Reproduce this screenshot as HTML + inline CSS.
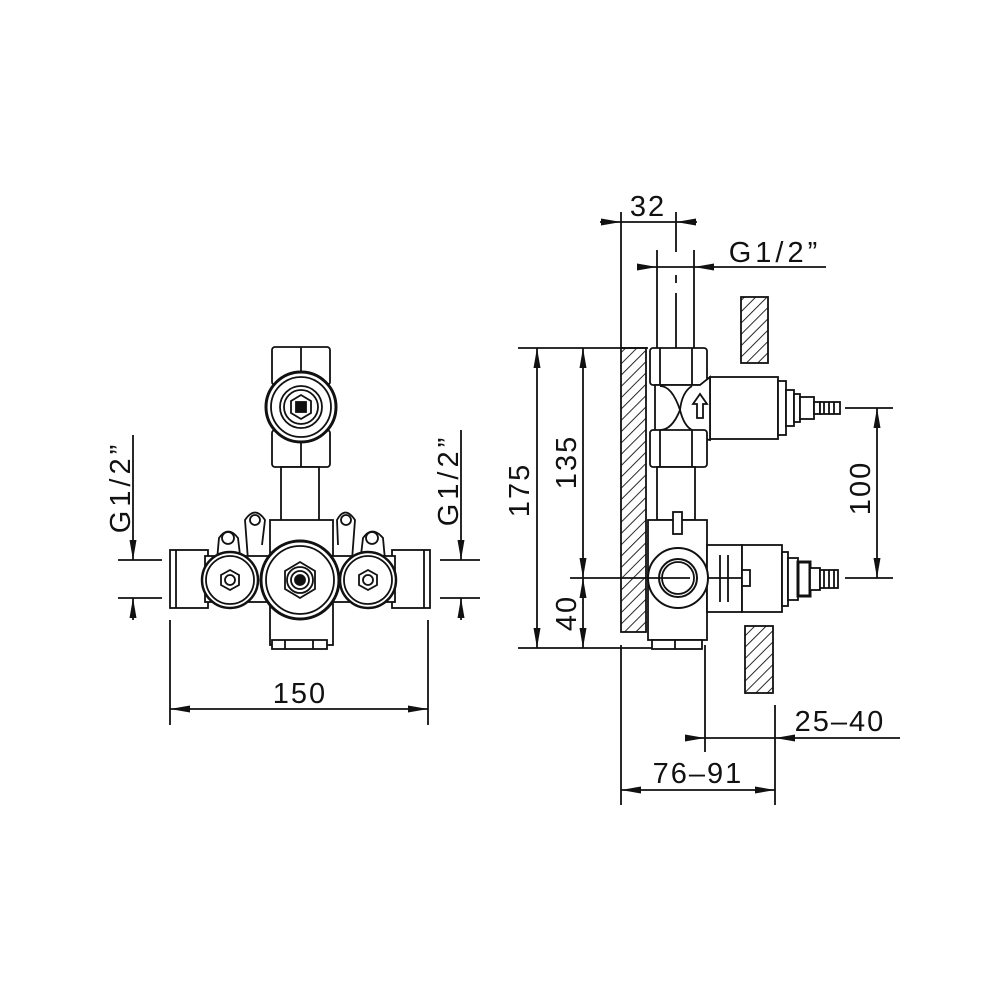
<!DOCTYPE html>
<html><head><style>body{margin:0;background:#fff}svg{display:block}text{font-family:"Liberation Sans","DejaVu Sans",sans-serif;font-size:29px;fill:#111;letter-spacing:2px}</style></head><body>
<svg width="1000" height="1000" viewBox="0 0 1000 1000" xmlns="http://www.w3.org/2000/svg">
<defs>
<pattern id="h" width="8" height="8" patternUnits="userSpaceOnUse" patternTransform="rotate(45)"><rect width="8" height="8" fill="#fff"/><line x1="0" y1="0" x2="0" y2="8" stroke="#111" stroke-width="1.8"/></pattern>
<marker id="a" markerWidth="20" markerHeight="10" refX="20" refY="5" orient="auto" markerUnits="userSpaceOnUse"><path d="M0,1.5 L20,5 L0,8.5Z" fill="#111"/></marker>
</defs>
<g stroke="#111" stroke-width="1.8" fill="none">
<!-- LEFT VIEW -->
<rect x="272" y="347" width="58" height="38" rx="3" fill="#fff"/>
<line x1="301" y1="347" x2="301" y2="385"/>
<rect x="272" y="430" width="58" height="37" rx="3" fill="#fff"/>
<line x1="301" y1="430" x2="301" y2="467"/>
<circle cx="301" cy="407" r="35" fill="#fff" stroke-width="3"/>
<circle cx="301" cy="407" r="30"/>
<circle cx="301" cy="407" r="21"/>
<circle cx="301" cy="407" r="17"/>
<polygon points="301,395 311,401 311,413 301,419 291,413 291,401"/>
<rect x="296" y="402" width="10" height="10" fill="#111"/>
<rect x="281" y="467" width="38" height="55" fill="#fff"/>
<path d="M248,560 L245,520 Q255,505 265,520 L262,545" fill="#fff"/>
<circle cx="255" cy="520" r="5"/>
<path d="M352,560 L355,520 Q345,505 337,520 L338,545" fill="#fff"/>
<circle cx="346" cy="520" r="5"/>
<path d="M217,560 L219,538 Q228,525 238,538 L240,555" fill="#fff"/>
<circle cx="228" cy="538" r="6"/>
<path d="M385,560 L383,538 Q372,525 363,538 L361,555" fill="#fff"/>
<circle cx="372" cy="538" r="6"/>
<rect x="270" y="520" width="63" height="125" fill="#fff"/>
<rect x="272" y="640" width="55" height="9" fill="#fff"/>
<line x1="285" y1="640" x2="285" y2="649"/><line x1="313" y1="640" x2="313" y2="649"/>
<rect x="170" y="550" width="38" height="58" fill="#fff"/>
<line x1="176" y1="550" x2="176" y2="608"/>
<rect x="392" y="550" width="38" height="58" fill="#fff"/>
<line x1="424" y1="550" x2="424" y2="608"/>
<rect x="205" y="556" width="190" height="46" fill="#fff"/>
<circle cx="230" cy="580" r="28" fill="#fff" stroke-width="2.5"/>
<circle cx="230" cy="580" r="24"/>
<polygon points="230,570 239,575 239,585 230,590 221,585 221,575"/>
<circle cx="230" cy="580" r="5"/>
<circle cx="368" cy="580" r="28" fill="#fff" stroke-width="2.5"/>
<circle cx="368" cy="580" r="24"/>
<polygon points="368,570 377,575 377,585 368,590 359,585 359,575"/>
<circle cx="368" cy="580" r="5"/>
<circle cx="300" cy="580" r="39" fill="#fff" stroke-width="3"/>
<circle cx="300" cy="580" r="34"/>
<polygon points="300,562 315,571 315,589 300,598 285,589 285,571"/>
<circle cx="300" cy="580" r="13"/><circle cx="300" cy="580" r="9"/>
<circle cx="300" cy="580" r="5" fill="#111"/>
<line x1="170" y1="620" x2="170" y2="725"/><line x1="428" y1="620" x2="428" y2="725"/>
<line x1="190" y1="709" x2="170" y2="709" marker-end="url(#a)"/>
<line x1="190" y1="709" x2="408" y2="709"/>
<line x1="408" y1="709" x2="428" y2="709" marker-end="url(#a)"/>
<line x1="118" y1="560" x2="162" y2="560"/><line x1="118" y1="598" x2="162" y2="598"/>
<line x1="133" y1="435" x2="133" y2="560" marker-end="url(#a)"/>
<line x1="133" y1="620" x2="133" y2="598" marker-end="url(#a)"/>
<line x1="440" y1="560" x2="480" y2="560"/><line x1="440" y1="598" x2="480" y2="598"/>
<line x1="461" y1="430" x2="461" y2="560" marker-end="url(#a)"/>
<line x1="461" y1="620" x2="461" y2="598" marker-end="url(#a)"/>

<!-- RIGHT VIEW -->
<rect x="621" y="348" width="25" height="284" fill="url(#h)"/>
<rect x="741" y="297" width="27" height="66" fill="url(#h)"/>
<rect x="745" y="626" width="28" height="67" fill="url(#h)"/>
<line x1="621" y1="212" x2="621" y2="348"/>
<line x1="676" y1="212" x2="676" y2="252"/>
<line x1="676" y1="275" x2="676" y2="283" />
<line x1="676" y1="293" x2="676" y2="348"/>
<line x1="600" y1="222" x2="621" y2="222" marker-end="url(#a)"/>
<line x1="621" y1="222" x2="676" y2="222"/>
<line x1="697" y1="222" x2="676" y2="222" marker-end="url(#a)"/>
<line x1="657" y1="250" x2="657" y2="348"/><line x1="694" y1="250" x2="694" y2="348"/>
<line x1="638" y1="267" x2="657" y2="267" marker-end="url(#a)"/>
<line x1="657" y1="267" x2="694" y2="267"/>
<line x1="714" y1="267" x2="694" y2="267" marker-end="url(#a)"/>
<line x1="714" y1="267" x2="826" y2="267"/>
<line x1="518" y1="348" x2="648" y2="348"/>
<line x1="518" y1="648" x2="700" y2="648"/>
<line x1="570" y1="578" x2="700" y2="578"/>
<line x1="537" y1="368" x2="537" y2="348" marker-end="url(#a)"/>
<line x1="537" y1="368" x2="537" y2="628"/>
<line x1="537" y1="628" x2="537" y2="648" marker-end="url(#a)"/>
<line x1="583" y1="368" x2="583" y2="348" marker-end="url(#a)"/>
<line x1="583" y1="368" x2="583" y2="558"/>
<line x1="583" y1="558" x2="583" y2="578" marker-end="url(#a)"/>
<line x1="583" y1="598" x2="583" y2="578" marker-end="url(#a)"/>
<line x1="583" y1="598" x2="583" y2="628"/>
<line x1="583" y1="628" x2="583" y2="648" marker-end="url(#a)"/>
<line x1="845" y1="408" x2="893" y2="408"/><line x1="845" y1="578" x2="893" y2="578"/>
<line x1="877" y1="428" x2="877" y2="408" marker-end="url(#a)"/>
<line x1="877" y1="428" x2="877" y2="558"/>
<line x1="877" y1="558" x2="877" y2="578" marker-end="url(#a)"/>
<line x1="621" y1="645" x2="621" y2="805"/>
<line x1="705" y1="645" x2="705" y2="752"/>
<line x1="775" y1="705" x2="775" y2="805"/>
<line x1="685" y1="738" x2="705" y2="738" marker-end="url(#a)"/>
<line x1="705" y1="738" x2="775" y2="738"/>
<line x1="795" y1="738" x2="775" y2="738" marker-end="url(#a)"/>
<line x1="795" y1="738" x2="900" y2="738"/>
<line x1="641" y1="790" x2="621" y2="790" marker-end="url(#a)"/>
<line x1="641" y1="790" x2="755" y2="790"/>
<line x1="755" y1="790" x2="775" y2="790" marker-end="url(#a)"/>
<rect x="710" y="377" width="68" height="62" fill="#fff"/>
<rect x="778" y="381" width="8" height="54" fill="#fff"/>
<rect x="786" y="390" width="8" height="36" fill="#fff"/>
<rect x="794" y="394" width="6" height="28" fill="#fff"/>
<rect x="800" y="397" width="14" height="22" fill="#fff"/>
<rect x="814" y="402" width="6" height="12" fill="#fff"/>
<rect x="820" y="402" width="20" height="12" fill="#fff"/>
<line x1="824" y1="402" x2="824" y2="414"/><line x1="829" y1="402" x2="829" y2="414"/><line x1="834" y1="402" x2="834" y2="414"/>
<rect x="650" y="348" width="57" height="37" rx="3" fill="#fff"/>
<line x1="660" y1="348" x2="660" y2="385"/><line x1="692" y1="348" x2="692" y2="385"/>
<path d="M655,385 L655,430 L710,440 L710,377 L700,385 Z" fill="#fff"/>
<path d="M660,386 Q672,386 680,410 Q672,430 660,430"/>
<path d="M692,386 Q682,392 680,410 Q684,426 692,430"/>
<path d="M697,418 L697,404 L693,404 L700,394 L707,404 L703,404 L703,418 Z"/>
<rect x="650" y="430" width="57" height="37" rx="3" fill="#fff"/>
<line x1="660" y1="430" x2="660" y2="467"/><line x1="692" y1="430" x2="692" y2="467"/>
<rect x="657" y="467" width="38" height="53" fill="#fff"/>
<rect x="648" y="520" width="59" height="120" fill="#fff"/>
<rect x="652" y="640" width="50" height="9" fill="#fff"/>
<line x1="675" y1="640" x2="675" y2="649"/>
<rect x="673" y="512" width="9" height="22" fill="#fff"/>
<rect x="707" y="545" width="35" height="67" fill="#fff"/>
<rect x="742" y="545" width="40" height="67" fill="#fff"/>
<line x1="720" y1="555" x2="720" y2="602"/><line x1="728" y1="555" x2="728" y2="602"/>
<line x1="707" y1="578" x2="742" y2="578"/>
<rect x="742" y="570" width="8" height="16" fill="#fff"/>
<rect x="782" y="552" width="6" height="54" fill="#fff"/>
<rect x="788" y="558" width="10" height="42" fill="#fff"/>
<rect x="798" y="562" width="12" height="34" fill="#fff" stroke-width="3"/>
<rect x="810" y="568" width="10" height="22" fill="#fff"/>
<rect x="820" y="570" width="18" height="18" fill="#fff"/>
<line x1="824" y1="570" x2="824" y2="588"/><line x1="829" y1="570" x2="829" y2="588"/><line x1="834" y1="570" x2="834" y2="588"/>
<circle cx="678" cy="578" r="30" fill="#fff" stroke-width="2"/>
<circle cx="678" cy="578" r="19" stroke-width="2"/>
<circle cx="678" cy="578" r="16"/>
<line x1="648" y1="578" x2="690" y2="578"/>
</g>
<text x="300" y="703" text-anchor="middle">150</text>
<text x="648" y="216" text-anchor="middle">32</text>
<text x="775" y="262" text-anchor="middle" style="letter-spacing:4px">G1/2”</text>
<text x="840" y="731" text-anchor="middle">25–40</text>
<text x="698" y="783" text-anchor="middle">76–91</text>
<text transform="translate(130,487) rotate(-90)" text-anchor="middle" style="letter-spacing:4px">G1/2”</text>
<text transform="translate(458,480) rotate(-90)" text-anchor="middle" style="letter-spacing:4px">G1/2”</text>
<text transform="translate(529,490) rotate(-90)" text-anchor="middle">175</text>
<text transform="translate(576,462) rotate(-90)" text-anchor="middle">135</text>
<text transform="translate(576,613) rotate(-90)" text-anchor="middle">40</text>
<text transform="translate(870,488) rotate(-90)" text-anchor="middle">100</text>
</svg>
</body></html>
